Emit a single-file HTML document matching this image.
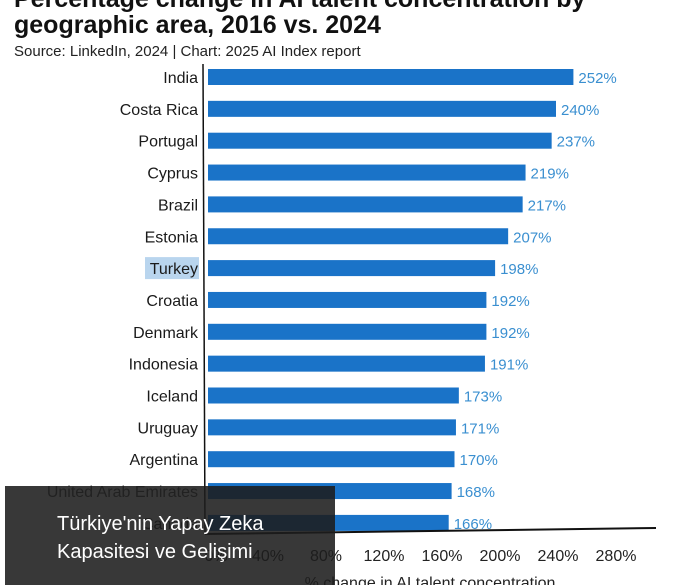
<!DOCTYPE html>
<html><head><meta charset="utf-8"><style>
body{margin:0;width:679px;height:585px;overflow:hidden;background:#fff;font-family:"Liberation Sans",sans-serif;}
#wrap{position:relative;width:679px;height:585px;}
.t{position:absolute;left:14px;font-weight:bold;font-size:25px;color:#111;white-space:nowrap;}
#overlay{position:absolute;left:5px;top:486px;width:330px;height:99px;background:rgba(28,28,28,0.88);color:#fff;font-size:20px;line-height:28px;box-sizing:border-box;padding:24px 0 0 52px;}
</style></head><body><div id="wrap">
<div class="t" style="top:-15px">Percentage change in AI talent concentration by</div>
<div class="t" style="top:11px">geographic area, 2016 vs. 2024</div>
<div style="position:absolute;left:14px;top:43px;font-size:15px;color:#222">Source: LinkedIn, 2024 | Chart: 2025 AI Index report</div>
<svg id="chart" width="679" height="585" style="position:absolute;left:0;top:0"></svg>
<div id="overlay">Türkiye'nin Yapay Zeka<br>Kapasitesi ve Gelişimi</div>
</div>
<script>
const categories=["India","Costa Rica","Portugal","Cyprus","Brazil","Estonia","Turkey","Croatia","Denmark","Indonesia","Iceland","Uruguay","Argentina","United Arab Emirates","Canada"];
const values=[252,240,237,219,217,207,198,192,192,191,173,171,170,168,166];
const valueLabels=["252%","240%","237%","219%","217%","207%","198%","192%","192%","191%","173%","171%","170%","168%","166%"];
const ticks=[0,40,80,120,160,200,240,280];
const tickLabels=["0%","40%","80%","120%","160%","200%","240%","280%"];
const NS="http://www.w3.org/2000/svg";
const svg=document.getElementById('chart');
const x0=208,k=1.45;
const xs=v=>x0+k*v;
const ys=i=>77+i*31.85;
function mk(t,a){const e=document.createElementNS(NS,t);for(const p in a)e.setAttribute(p,a[p]);svg.appendChild(e);return e;}
categories.forEach((c,i)=>{
  const y=ys(i);
  if(c==="Turkey"){const h=mk('rect',{x:145,y:y-11,width:54,height:22,fill:'#b9d5ee'});
    
    }
  const b=mk('rect',{x:x0,y:y-8,width:xs(values[i])-x0,height:16,fill:'#1a73c8'});
  
  
  const l=mk('text',{x:198,y:y+6,'text-anchor':'end','font-size':16,fill:c==="United Arab Emirates"?'#444':'#1a1a1a'});l.textContent=c;
  
  
  const v=mk('text',{x:xs(values[i])+5,y:y+6,'font-size':15,fill:'#3a8fd0'});v.textContent=valueLabels[i];
  
  
});
const ya=mk('line',{x1:203,y1:64,x2:205,y2:534,stroke:'#111','stroke-width':1.5});


const xa=mk('line',{x1:205,y1:534,x2:656,y2:528,stroke:'#111','stroke-width':2});


ticks.forEach((t,i)=>{
  const tx=mk('text',{x:xs(t)+(t>0?2:8),y:561,'text-anchor':'middle','font-size':16,fill:'#222'});tx.textContent=tickLabels[i];
  
  
});
const at=mk('text',{x:430,y:588,'text-anchor':'middle','font-size':16,fill:'#222'});at.textContent="% change in AI talent concentration";


</script></body></html>
